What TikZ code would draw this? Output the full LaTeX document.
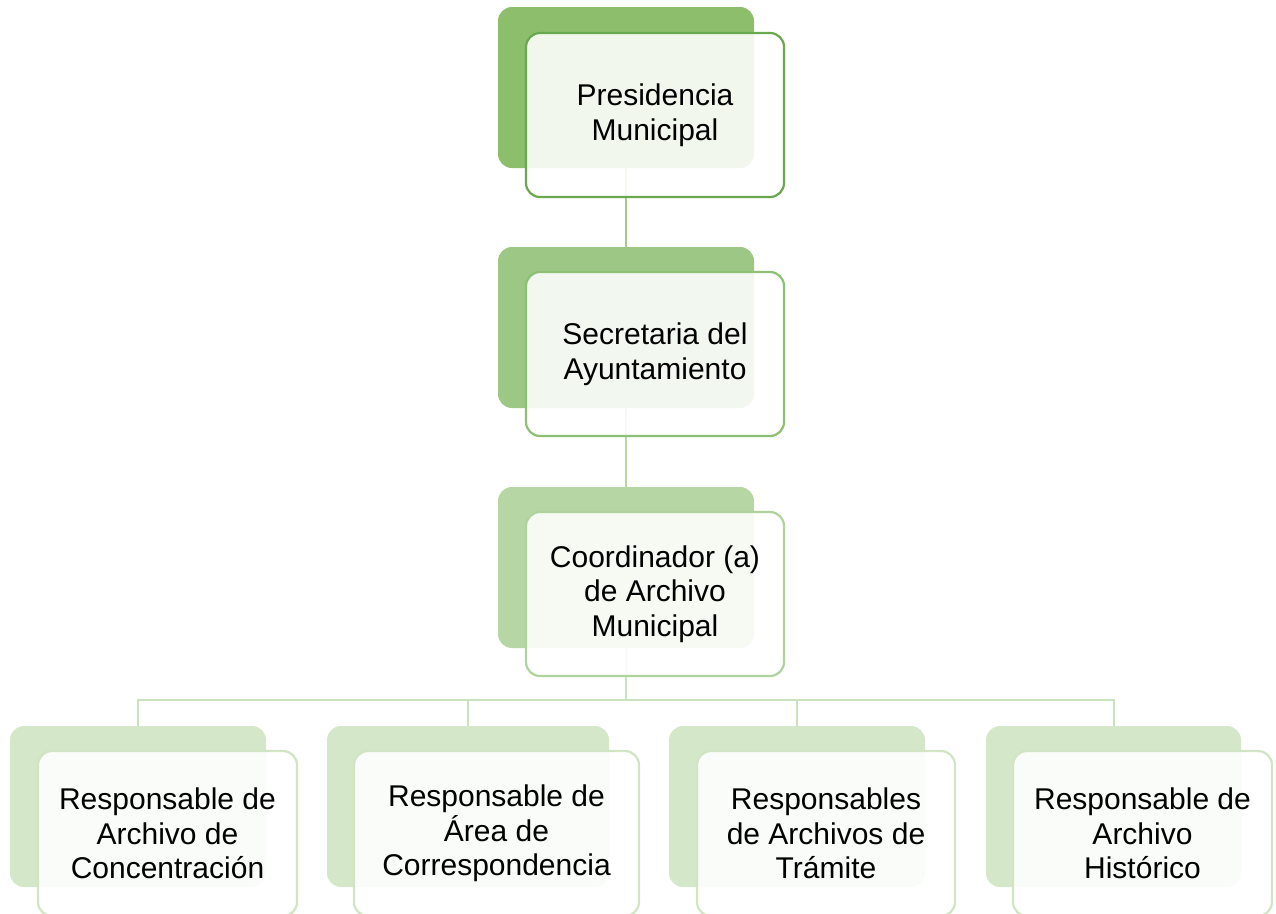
\documentclass[tikz,border=0pt]{standalone}
\usepackage{fontspec}
\setmainfont{Liberation Sans}
\definecolor{bkA}{HTML}{8DBE6C}
\definecolor{lnA}{HTML}{6AA84F}
\definecolor{bkB}{HTML}{9CC784}
\definecolor{lnB}{HTML}{8CC074}
\definecolor{bkC}{HTML}{B6D7A3}
\definecolor{lnC}{HTML}{B0D39D}
\definecolor{bkD}{HTML}{D4E7C8}
\definecolor{lnD}{HTML}{D1E5C4}
\definecolor{cnA}{HTML}{A3CB8C}
\definecolor{cnB}{HTML}{B8D8A6}
\definecolor{cnC}{HTML}{CBE2BE}
\begin{document}
\begin{tikzpicture}[x=1pt,y=-1pt,
  back/.style={rounded corners=14pt, draw=none, inner sep=0pt, outer sep=0pt,
    minimum height=161pt, anchor=north west},
  front/.style={rounded corners=14pt, fill=white, fill opacity=0.88, text opacity=1,
    line width=2.2pt, inner sep=0pt, outer sep=0pt, minimum height=164pt,
    align=center, anchor=north west, text=black,
    font=\fontsize{30}{34.7}\selectfont},
  link/.style={line width=2pt}]
\useasboundingbox (0,0) rectangle (1276,913);
\clip (0,0) rectangle (1276,913);
% back plates
\node[back, fill=bkA, minimum width=256pt] (b1) at (498,7) {};
\node[back, fill=bkB, minimum width=256pt] (b2) at (498,247) {};
\node[back, fill=bkC, minimum width=256pt] (b3) at (498,487) {};
\node[back, fill=bkD, minimum width=256pt] (d1) at (10,726) {};
\node[back, fill=bkD, minimum width=282pt] (d2) at (327,726) {};
\node[back, fill=bkD, minimum width=256pt] (d3) at (669,726) {};
\node[back, fill=bkD, minimum width=255pt] (d4) at (986,726) {};
% connectors
\draw[link, cnA] (b1.south) -- (b2.north);
\draw[link, cnB] (b2.south) -- (b3.north);
\draw[link, cnC] (b3.south) -- ++(0,52) coordinate (bus);
\draw[link, cnC] (d1.north) |- (bus) -| (d4.north);
\draw[link, cnC] (d2.north) |- (bus);
\draw[link, cnC] (d3.north) |- (bus);
% front cards
\node[front, draw=lnA, minimum width=258pt] (f1) at (526,33) {Presidencia\\Municipal};
\node[front, draw=lnB, minimum width=258pt] (f2) at (526,272) {Secretaria del\\Ayuntamiento};
\node[front, draw=lnC, minimum width=258pt] (f3) at (526,512) {Coordinador (a)\\de Archivo\\Municipal};
\node[front, draw=lnD, minimum width=259pt, minimum height=165pt] (g1) at (38,751) {Responsable de\\Archivo de\\Concentración};
\node[front, draw=lnD, minimum width=285pt, minimum height=165pt] (g2) at (354,751) {Responsable de\\Área de\\Correspondencia};
\node[front, draw=lnD, minimum width=258pt, minimum height=165pt] (g3) at (697,751) {Responsables\\de Archivos de\\Trámite};
\node[front, draw=lnD, minimum width=259pt, minimum height=165pt] (g4) at (1013,751) {Responsable de\\Archivo\\Histórico};
\end{tikzpicture}
\end{document}
